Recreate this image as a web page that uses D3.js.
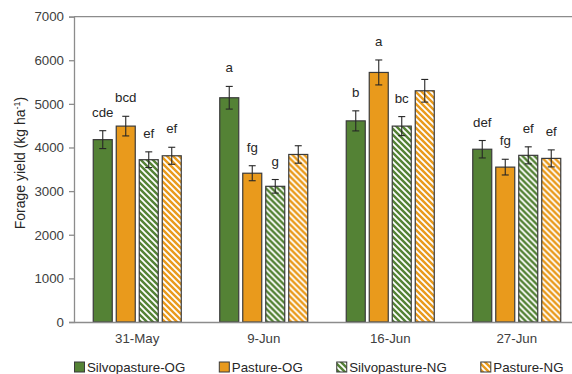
<!DOCTYPE html>
<html>
<head>
<meta charset="utf-8">
<script src="https://cdn.jsdelivr.net/npm/d3@7"></script>
<style>
  html, body { margin: 0; padding: 0; background: #fff; }
  svg { display: block; font-family: "Liberation Sans", Arial, sans-serif; }
</style>
</head>
<body>
<svg id="chart" width="572" height="374"></svg>
<script>
// ---- data ----
const categories = ["31-May", "9-Jun", "16-Jun", "27-Jun"];
const seriesNames = ["Silvopasture-OG", "Pasture-OG", "Silvopasture-NG", "Pasture-NG"];
const silvoOG = [4180, 5140, 4610, 3960];
const pastureOG = [4490, 3410, 5720, 3550];
const silvoNG = [3720, 3110, 4490, 3820];
const pastureNG = [3810, 3840, 5300, 3750];
const silvoOGErr = [205, 260, 230, 200];
const pastureOGErr = [225, 172, 286, 180];
const silvoNGErr = [180, 156, 218, 195];
const pastureNGErr = [195, 200, 260, 195];
const silvoOGLetters = ["cde", "a", "b", "def"];
const pastureOGLetters = ["bcd", "fg", "a", "fg"];
const silvoNGLetters = ["ef", "g", "bc", "ef"];
const pastureNGLetters = ["ef", "", "", "ef"];
const yTicks = [0, 1000, 2000, 3000, 4000, 5000, 6000, 7000];

const values = [silvoOG, pastureOG, silvoNG, pastureNG];
const errors = [silvoOGErr, pastureOGErr, silvoNGErr, pastureNGErr];
const letters = [silvoOGLetters, pastureOGLetters, silvoNGLetters, pastureNGLetters];

const GREEN = "#548235", ORANGE = "#E99A1C";

const svg = d3.select("#chart");
const defs = svg.append("defs");
function hatch(id, color) {
  const p = defs.append("pattern").attr("id", id)
    .attr("patternUnits", "userSpaceOnUse").attr("width", 6).attr("height", 6);
  p.append("rect").attr("width", 6).attr("height", 6).attr("fill", color);
  p.append("path").attr("d", "M-1,-1 L7,7 M-4,2 L2,8 M4,-2 L8,2")
    .attr("stroke", "#fff").attr("stroke-width", 1.8);
}
hatch("hatch-g", GREEN);
hatch("hatch-o", ORANGE);
const fillOf = i => i === 0 ? GREEN : i === 1 ? ORANGE : i === 2 ? "url(#hatch-g)" : "url(#hatch-o)";

const mLeft = 74, mRight = 580, mTop = 16.6, mBottom = 322;
const x0 = d3.scaleBand().domain(categories).range([mLeft, mRight]).padding(0);
const x1 = d3.scaleBand().domain(seriesNames).range([0, x0.bandwidth()])
  .paddingInner(4 / 23).paddingOuter(0.837);
const y = d3.scaleLinear().domain([0, 7000]).range([mBottom, mTop]);

const AXIS = "#8c8c8c";

// top border line
svg.append("line").attr("x1", mLeft).attr("x2", mRight)
  .attr("y1", y(7000)).attr("y2", y(7000)).attr("stroke", AXIS).attr("stroke-width", 1.3);

// y axis
const yAxis = svg.append("g").attr("transform", `translate(${mLeft},0)`)
  .call(d3.axisLeft(y).tickValues(yTicks).tickFormat(d3.format("d")).tickSize(5).tickPadding(5));
yAxis.select(".domain").attr("stroke", AXIS).attr("stroke-width", 1.3);
yAxis.selectAll(".tick line").attr("stroke", AXIS).attr("stroke-width", 1.3);
yAxis.selectAll(".tick text").attr("fill", "#404040").attr("font-size", "13.3px")
  .attr("font-family", "Liberation Sans, Arial, sans-serif");

// bars
const groups = svg.append("g").selectAll("g").data(categories).join("g")
  .attr("transform", d => `translate(${x0(d)},0)`);

seriesNames.forEach((s, si) => {
  groups.append("rect")
    .attr("x", x1(s))
    .attr("y", (d, ci) => y(values[si][ci]))
    .attr("width", x1.bandwidth())
    .attr("height", (d, ci) => y(0) - y(values[si][ci]))
    .attr("fill", fillOf(si))
    .attr("stroke", "#3a3a3a").attr("stroke-width", 1.2);
});

// x axis (drawn after bars)
const xAxis = svg.append("g").attr("transform", `translate(0,${mBottom})`)
  .call(d3.axisBottom(x0).tickSize(0).tickPadding(12));
xAxis.select(".domain").attr("stroke", AXIS).attr("stroke-width", 1.3);
xAxis.selectAll(".tick text").attr("fill", "#404040").attr("font-size", "13.3px")
  .attr("font-family", "Liberation Sans, Arial, sans-serif");

// error bars and letters
seriesNames.forEach((s, si) => {
  const cx = x1(s) + x1.bandwidth() / 2;
  const eg = groups.append("g");
  eg.append("line").attr("x1", cx).attr("x2", cx)
    .attr("y1", (d, ci) => y(values[si][ci] + errors[si][ci]))
    .attr("y2", (d, ci) => y(values[si][ci] - errors[si][ci]))
    .attr("stroke", "#262626").attr("stroke-width", 1.1);
  [1, -1].forEach(sign => {
    eg.append("line").attr("x1", cx - 3.5).attr("x2", cx + 3.5)
      .attr("y1", (d, ci) => y(values[si][ci] + sign * errors[si][ci]))
      .attr("y2", (d, ci) => y(values[si][ci] + sign * errors[si][ci]))
      .attr("stroke", "#262626").attr("stroke-width", 1.1);
  });
  groups.append("text")
    .attr("x", cx)
    .attr("y", (d, ci) => y(values[si][ci] + errors[si][ci]) - 14)
    .attr("text-anchor", "middle")
    .attr("font-size", "13.3px").attr("fill", "#262626")
    .text((d, ci) => letters[si][ci]);
});

// y title
const title = svg.append("text")
  .attr("transform", `translate(25,163) rotate(-90)`)
  .attr("text-anchor", "middle").attr("font-size", "14px").attr("fill", "#262626");
title.append("tspan").text("Forage yield (kg ha");
title.append("tspan").attr("baseline-shift", "super").attr("font-size", "9px").text("-1");
title.append("tspan").text(")");

// legend
const leg = svg.append("g");
let lx = 74;
const ly = 367;
seriesNames.forEach((s, si) => {
  leg.append("rect").attr("x", lx + 0.5).attr("y", ly - 5).attr("width", 10).attr("height", 10)
    .attr("fill", fillOf(si)).attr("stroke", "#3a3a3a").attr("stroke-width", 1);
  const t = leg.append("text").attr("x", lx + 13).attr("y", ly + 5)
    .attr("font-size", "13.3px").attr("fill", "#262626").text(s);
  const w = t.node().getComputedTextLength();
  lx = lx + 13 + w + 33.5;
});
</script>
</body>
</html>
